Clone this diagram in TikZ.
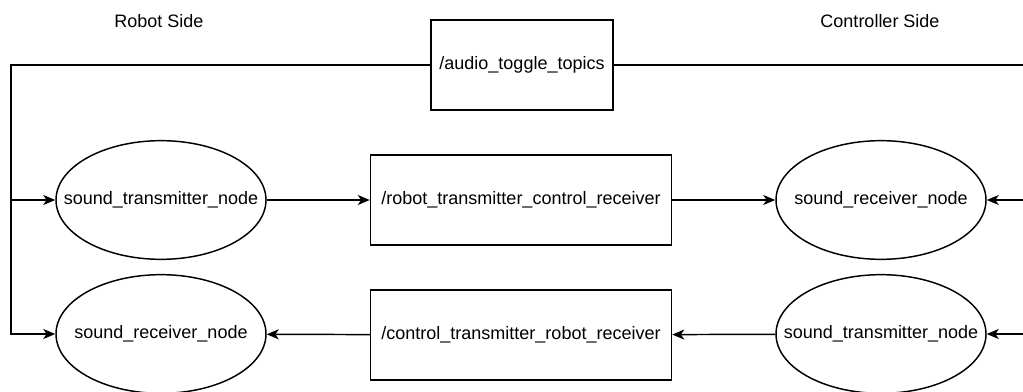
\documentclass[tikz,border=0pt]{standalone}
\usepackage{fontspec}
\setmainfont{Liberation Sans}
\usetikzlibrary{shapes.geometric}
\usetikzlibrary{arrows.meta}

% keep the ellipse size fixed, whatever the text width
\newcommand{\nodename}[1]{\makebox[0pt]{#1}}

\tikzset{
  plaintext/.style={font=\fontsize{13.5}{16}\selectfont, inner sep=0pt},
  topic/.style={plaintext, draw, rectangle, line width=1.1pt, minimum height=67.5pt},
  rosnode/.style={plaintext, draw, ellipse, line width=1.1pt, minimum width=157.5pt, minimum height=89pt},
  link/.style={line width=1.1pt, -{Stealth[length=9pt, width=7.5pt, inset=2.5pt]}},
  wire/.style={line width=1.1pt}
}

\begin{document}
\begin{tikzpicture}[x=0.75pt, y=-0.75pt]
  \useasboundingbox (0, 0) rectangle (1023, 392);

  % side titles
  \node [plaintext] (robotside) at (159, 21) {Robot Side};
  \node [plaintext] (ctrlside) at (880, 21) {Controller Side};

  % topics
  \node [topic, minimum width=136.5pt] (toggle) at (522, 65) {/audio\_toggle\_topics};
  \node [topic, minimum width=225.75pt] (rtcr) at (521, 200) {/robot\_transmitter\_control\_receiver};
  \node [topic, minimum width=225.75pt] (ctrr) at (521, 335) {/control\_transmitter\_robot\_receiver};

  % robot side nodes
  \node [rosnode] (robottx) at (161, 200) {\nodename{sound\_transmitter\_node}};
  \node [rosnode] (robotrx) at (161, 334) {\nodename{sound\_receiver\_node}};

  % controller side nodes
  \node [rosnode] (ctrlrx) at (881, 200) {\nodename{sound\_receiver\_node}};
  \node [rosnode] (ctrltx) at (881, 334) {\nodename{sound\_transmitter\_node}};

  % bus corners
  \coordinate (lefttop) at (11, 65);
  \coordinate (lefttx) at (11, 200);
  \coordinate (leftrx) at (11, 334);
  \coordinate (righttop) at (1023, 65);
  \coordinate (rightrx) at (1023, 200);
  \coordinate (righttx) at (1023, 334);

  \draw [link] (toggle.west) -- (lefttop) -- (leftrx) -- (robotrx.west);
  \draw [link] (lefttx) -- (robottx.west);
  \draw [wire] (toggle.east) -- (righttop);
  \draw [link] (rightrx) -- (ctrlrx.east);
  \draw [link] (righttx) -- (ctrltx.east);

  \draw [link] (robottx) -- (rtcr);
  \draw [link] (rtcr) -- (ctrlrx);
  \draw [link] (ctrltx) -- (ctrr);
  \draw [link] (ctrr) -- (robotrx);

\end{tikzpicture}
\end{document}
